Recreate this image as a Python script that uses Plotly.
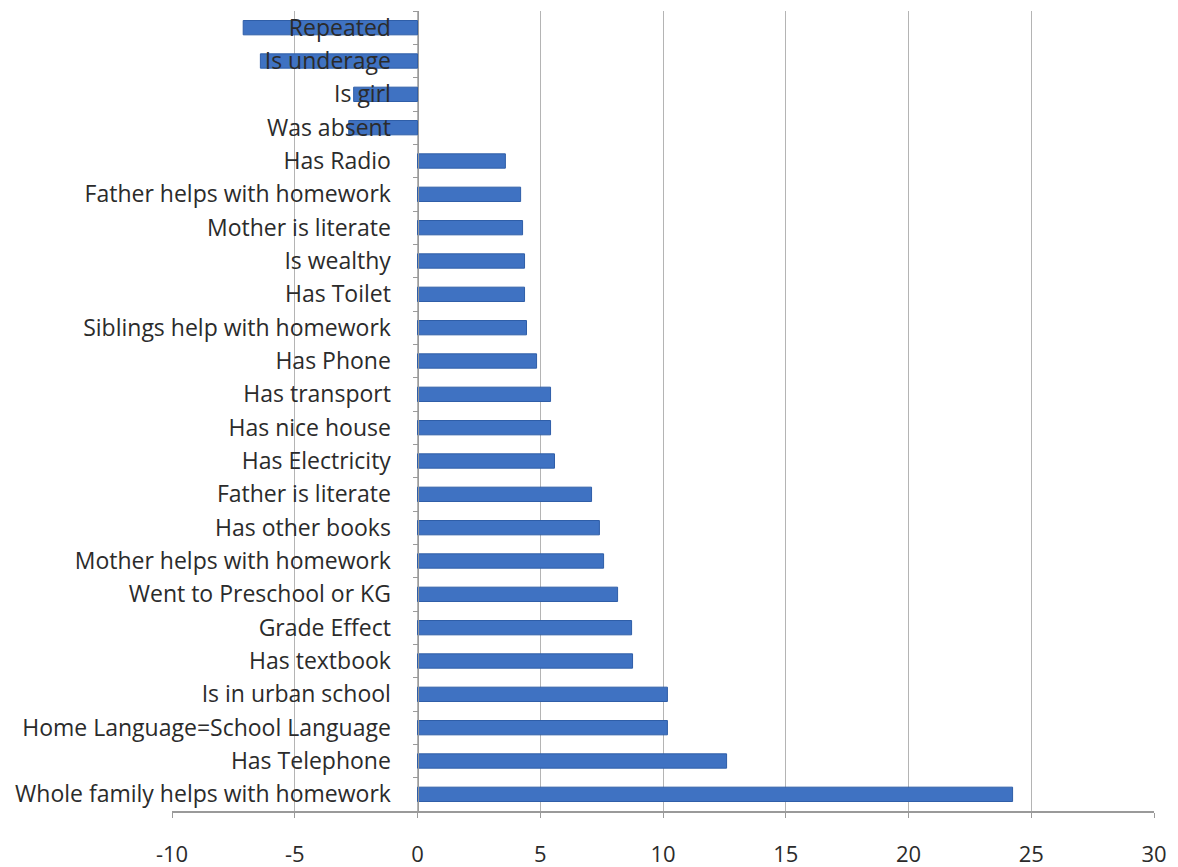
import plotly.graph_objects as go

categories = [
    "Repeated", "Is underage", "Is girl", "Was absent", "Has Radio",
    "Father helps with homework", "Mother is literate", "Is wealthy", "Has Toilet",
    "Siblings help with homework", "Has Phone", "Has transport", "Has nice house",
    "Has Electricity", "Father is literate", "Has other books",
    "Mother helps with homework", "Went to Preschool or KG", "Grade Effect",
    "Has textbook", "Is in urban school", "Home Language=School Language",
    "Has Telephone", "Whole family helps with homework",
]
values = [
    -7.1, -6.4, -2.6, -2.8, 3.58,
    4.2, 4.28, 4.36, 4.36,
    4.44, 4.85, 5.42, 5.42,
    5.58, 7.09, 7.41,
    7.58, 8.15, 8.72,
    8.76, 10.18, 10.18,
    12.59, 24.24,
]
x_ticks = [-10, -5, 0, 5, 10, 15, 20, 25, 30]

font_family = "Open Sans, Liberation Sans, sans-serif"

fig = go.Figure(go.Bar(
    x=values, y=categories, orientation="h", width=0.43,
    marker=dict(color="#3f72c2", line=dict(color="#2f5ea8", width=1)),
))

fig.update_layout(
    width=1178, height=867,
    margin=dict(l=172, r=24, t=11, b=56, autoexpand=False),
    paper_bgcolor="white", plot_bgcolor="white",
    showlegend=False,
    font=dict(family=font_family, size=22, color="#2b2b2b"),
    xaxis=dict(
        range=[-10, 30], tickvals=x_ticks, ticktext=[str(t) for t in x_ticks],
        showgrid=True, gridcolor="#b4b4b4", gridwidth=1,
        zeroline=False, showline=True, linecolor="#9a9a9a", linewidth=2,
        ticks="outside", ticklen=5, tickcolor="#9a9a9a",
        ticklabelstandoff=18, tickfont=dict(size=22, color="#2b2b2b"),
        mirror=False, automargin=False,
    ),
    yaxis=dict(
        categoryorder="array", categoryarray=categories, autorange="reversed",
        anchor="free", position=0.25, showgrid=False, zeroline=False,
        showline=True, linecolor="#9a9a9a", linewidth=1,
        ticks="outside", ticklen=5, tickcolor="#9a9a9a", tickson="boundaries",
        ticklabelstandoff=22, tickfont=dict(size=23, color="#2b2b2b"),
        automargin=False,
    ),
)

fig.write_html("out.html")
